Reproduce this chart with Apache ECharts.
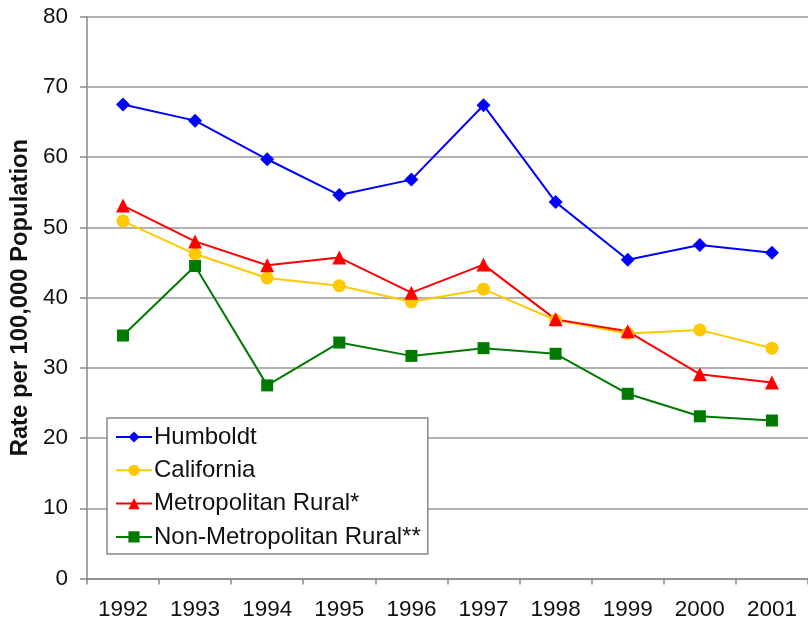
<!DOCTYPE html>
<html>
<head>
<meta charset="utf-8">
<script src="https://cdn.jsdelivr.net/npm/echarts@6/dist/echarts.min.js"></script>
<style>html,body{margin:0;padding:0;background:#fff;}#c{width:808px;height:628px;}</style>
</head>
<body>
<div id="c"></div>
<script>
const years = ['1992','1993','1994','1995','1996','1997','1998','1999','2000','2001'];
const humboldt = [67.5, 65.2, 59.7, 54.6, 56.8, 67.4, 53.6, 45.4, 47.5, 46.4];
const california = [50.9, 46.2, 42.8, 41.7, 39.4, 41.2, 36.8, 34.9, 35.4, 32.8];
const metroRural = [53.1, 48.0, 44.6, 45.7, 40.7, 44.7, 36.9, 35.2, 29.1, 27.9];
const nonMetroRural = [34.6, 44.5, 27.5, 33.6, 31.7, 32.8, 32.0, 26.3, 23.1, 22.5];
const seriesNames = ['Humboldt', 'California', 'Metropolitan Rural*', 'Non-Metropolitan Rural**'];
const yAxisTitle = 'Rate per 100,000 Population';

const FONT = 'Liberation Sans, Arial, sans-serif';
const chart = echarts.init(document.getElementById('c'), null, {renderer: 'canvas'});
function mk(name, data, color, symbol, size) {
  return {
    name: name, type: 'line', data: data,
    symbol: symbol, symbolSize: size,
    lineStyle: {color: color, width: 2},
    itemStyle: {color: color},
    emphasis: {disabled: true},
    animation: false
  };
}
chart.setOption({
  animation: false,
  grid: {left: 82, right: -3, top: 16.7, bottom: 49.5, containLabel: false},
  legend: {
    orient: 'vertical', left: 107, top: 418,
    padding: [7, 7, 5, 8],
    itemGap: 9.3, itemWidth: 36, itemHeight: 14,
    backgroundColor: '#fff', borderColor: '#888', borderWidth: 1.5,
    textStyle: {fontFamily: FONT, fontSize: 24, color: '#111', padding: [0,0,0,-3]},
    data: seriesNames,
    z: 10
  },
  xAxis: {
    type: 'category', data: years, boundaryGap: true,
    axisLine: {lineStyle: {color: '#888', width: 1.5}},
    axisTick: {show: true, alignWithLabel: false, inside: false, length: 6, lineStyle: {color: '#888', width: 1.5}},
    axisLabel: {fontFamily: FONT, fontSize: 22.5, color: '#111', margin: 20, interval: 0}
  },
  yAxis: {
    type: 'value', min: 0, max: 80, interval: 10,
    name: yAxisTitle, nameLocation: 'middle', nameGap: 53, nameRotate: 90,
    nameTextStyle: {fontFamily: FONT, fontSize: 23.8, fontWeight: 'bold', color: '#111'},
    axisLine: {show: true, lineStyle: {color: '#888', width: 1.5}},
    axisTick: {show: true, inside: false, length: 7, lineStyle: {color: '#888', width: 1.5}},
    axisLabel: {fontFamily: FONT, fontSize: 22.5, color: '#111', margin: 19},
    splitLine: {show: true, lineStyle: {color: '#999', width: 1.5}}
  },
  series: [
    mk(seriesNames[0], humboldt, '#0000ff', 'diamond', 14),
    mk(seriesNames[1], california, '#ffc800', 'circle', 13),
    mk(seriesNames[2], metroRural, '#ff0000', 'triangle', 14),
    mk(seriesNames[3], nonMetroRural, '#007a00', 'rect', 12)
  ]
});
</script>
</body>
</html>
